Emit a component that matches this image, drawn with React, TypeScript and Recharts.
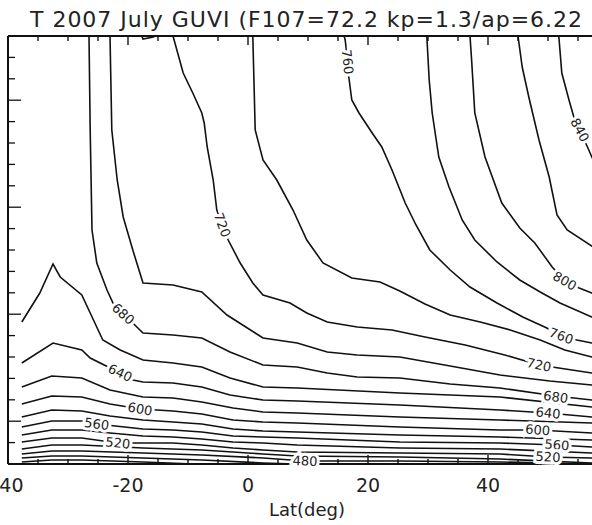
import React from "react";
import { ComposedChart, Line, XAxis, YAxis, ReferenceDot } from "recharts";

type Pt = [number, number];

// Temperature contours (K): [latitude (deg), height index] pairs along each isoline.
const c440: Pt[] = [[-37.7, 2], [-32.7, 4], [-27.7, 4], [-17.5, 2], [-9, 0]];
const c460: Pt[] = [[-37.7, 6], [-32.7, 8], [-27.7, 8], [-17.5, 6], [-7.7, 4], [2.5, 1], [8, 0]];
const c480: Pt[] = [[-37.7, 10], [-32.7, 13], [-27.7, 13], [-17.5, 11], [-7.7, 9], [2.5, 6], [9.5, 3], [25.3, 3], [42, 2], [57.3, 0]];
const c500: Pt[] = [[-37.7, 15], [-32.7, 19], [-27.7, 19], [-17.5, 16], [-7.7, 14], [2.5, 10], [8.2, 8], [25.3, 7], [42, 5], [57.3, 1], [60, 0]];
const c520: Pt[] = [[-37.7, 22], [-32.7, 26], [-27.7, 26], [-21.7, 21], [-17.5, 21], [-12.5, 21], [-7.7, 19], [-2.5, 16], [2.5, 14], [8.2, 12], [25.3, 11], [42, 10], [50, 7], [57.3, 6], [60, 5]];
const c540: Pt[] = [[-37.7, 29], [-32.7, 34], [-27.7, 34], [-23, 31], [-17.5, 28], [-12.5, 27], [-7.7, 25], [-2.5, 22], [2.5, 21], [8.2, 19], [25.3, 16], [42, 15], [57.3, 11], [60, 10]];
const c560: Pt[] = [[-37.7, 37], [-32.7, 43], [-27.7, 43], [-25.2, 40], [-17.5, 35], [-12.5, 34], [-7.7, 32], [-2.5, 28], [2.5, 27], [8.2, 26], [25.3, 22], [42, 21], [51.5, 19], [57.3, 17], [60, 16]];
const c580: Pt[] = [[-37.7, 47], [-32.7, 54], [-27.7, 53], [-23, 48], [-17.5, 44], [-12.5, 42], [-7.7, 40], [-2.5, 35], [2.5, 33], [8.2, 32], [25.3, 29], [42, 27], [57.3, 24], [60, 23]];
const c600: Pt[] = [[-37.7, 60], [-32.7, 68], [-27.7, 67], [-23, 60], [-18, 55], [-12.5, 53], [-7.7, 50], [-2.5, 44], [2.5, 42], [8.2, 41], [25.3, 37], [42, 34], [48.3, 34], [57.3, 31], [60, 30]];
const c620: Pt[] = [[-37.7, 77], [-32.7, 88], [-27.7, 86], [-23, 74], [-17.5, 67], [-12.5, 66], [-7.7, 62], [-2.5, 56], [2.5, 52], [8.2, 51], [25.3, 47], [42, 44], [57.3, 41], [60, 40]];
const c640: Pt[] = [[-37.7, 101], [-32.5, 121], [-27.7, 114], [-26.3, 106], [-21.3, 91], [-19.2, 84], [-17.5, 82], [-12.5, 81], [-7.7, 77], [-3, 69], [2.5, 64], [8.2, 63], [25.3, 59], [42, 54], [50, 51], [57.3, 47], [60, 46]];
const c660: Pt[] = [[-37.7, 142], [-34.7, 171], [-32.5, 200], [-31.3, 187], [-27.7, 169], [-26.3, 151], [-24.2, 124], [-21.3, 114], [-17.5, 104], [-12.5, 101], [-7.7, 97], [-3, 86], [2.5, 77], [8.2, 76], [25.3, 71], [42, 67], [57.3, 57], [60, 54]];
const c680: Pt[] = [[-26.5, 428], [-26.3, 334], [-26, 234], [-25.2, 201], [-23.5, 174], [-22.5, 161], [-20.8, 150], [-19.2, 141], [-17.5, 131], [-12.5, 129], [-7.7, 126], [-3, 112], [2.5, 99], [8.2, 97], [13.2, 91], [18.2, 87], [25.3, 86], [33.7, 80], [42, 76], [51.3, 68], [57.3, 64], [60, 62]];
const c700: Pt[] = [[-23, 428], [-22.7, 334], [-21.8, 284], [-20.8, 247], [-19.2, 214], [-17.5, 181], [-12.5, 179], [-7.7, 172], [-3.5, 149], [2.5, 126], [8.2, 121], [13.2, 112], [18.2, 109], [25.3, 107], [33.7, 98], [42, 89], [50.3, 83], [57.3, 79], [60, 77]];
const c720: Pt[] = [[-12.5, 428], [-10.8, 391], [-9.2, 371], [-7.7, 351], [-7.3, 341], [-6.8, 317], [-5.8, 284], [-5.2, 254], [-4.3, 239], [-3.3, 224], [-1.3, 201], [0.8, 181], [2.5, 169], [7, 161], [9.8, 151], [13.2, 142], [18.2, 137], [24, 134], [29.5, 127], [36.2, 119], [42.8, 109], [48.5, 99], [57.3, 91], [60, 88]];
const c720top: Pt[] = [[-17.7, 428], [-17.5, 425], [-15.8, 427], [-15.5, 428]];
const c740: Pt[] = [[0.8, 428], [1.2, 334], [2.5, 304], [4.8, 284], [7.5, 254], [9.8, 224], [12.5, 201], [17.3, 186], [22, 182], [25.3, 173], [29.5, 160], [33.7, 149], [38.7, 142], [43.7, 134], [48.7, 124], [52.8, 114], [57.3, 107], [60, 103]];
const c760: Pt[] = [[16, 428], [16.2, 424], [16.6, 402], [16.8, 387], [17.3, 364], [18.5, 351], [20.7, 331], [22.3, 317], [24, 294], [26.2, 261], [28, 239], [30.3, 214], [33.7, 194], [37, 177], [41.5, 161], [45.8, 147], [49.8, 136], [52, 128], [54.8, 124], [57.3, 121], [60, 117]];
const c780: Pt[] = [[29.8, 428], [30.2, 384], [30.7, 351], [31.8, 307], [33.5, 277], [35.7, 244], [37.8, 224], [41.5, 202], [45.3, 184], [48.7, 172], [52, 161], [57.3, 147], [60, 140]];
const c800: Pt[] = [[37, 428], [37.3, 401], [37.8, 351], [39.5, 307], [42.3, 261], [45.3, 236], [47.8, 221], [50.7, 197], [52.8, 183], [55.2, 176], [57.3, 171], [60, 165]];
const c820: Pt[] = [[45, 428], [45.7, 397], [46.8, 367], [48.5, 324], [50.2, 287], [51.5, 249], [53.2, 234], [57.3, 218], [60, 208]];
const c840: Pt[] = [[51.8, 428], [52.3, 391], [53.5, 364], [54.3, 347], [55.3, 334], [56.8, 314], [57.3, 307], [60, 279]];

const contours: Pt[][] = [
  c440, c460, c480, c500, c520, c540, c560, c580, c600, c620, c640,
  c660, c680, c700, c720, c720top, c740, c760, c780, c800, c820, c840,
];

// In-line level labels: [level, latitude, height index, rotation (deg)]
const levelLabels: [number, number, number, number][] = [
  [680, -20.8, 150, 42],
  [640, -21.3, 91, 25],
  [600, -18, 55, 10],
  [560, -25.2, 40, 8],
  [520, -21.7, 21, 6],
  [720, -4.3, 239, 70],
  [760, 16.6, 402, 84],
  [840, 55.3, 334, 62],
  [800, 52.8, 183, 30],
  [760, 52.2, 128, 20],
  [720, 48.5, 99, 12],
  [680, 51.3, 67, 8],
  [640, 50, 51, 6],
  [600, 48.3, 34, 4],
  [560, 51.5, 19, 4],
  [520, 50, 7, 3],
  [480, 9.5, 3, 2],
];

const latTicks = [-40, -35, -30, -25, -20, -15, -10, -5, 0, 5, 10, 15, 20, 25, 30, 35, 40, 45, 50, 55, 60];
const latMajor = [-40, -20, 0, 20, 40, 60];
const latLabels = [-40, -20, 0, 20, 40];
const heightTicks = Array.from({ length: 21 }, (_, k) => +(k * 21.4).toFixed(1));
const H_TOP = 428;

const title = "T 2007 July GUVI (F107=72.2 kp=1.3/ap=6.22";
const xTitle = "Lat(deg)";

const INK = "#111";
const FONT = "'DejaVu Sans', sans-serif";

const LatLabel = (props: any) => {
  const { x, y, payload } = props;
  const v = payload.value;
  if (!latLabels.includes(v)) return <g />;
  return (
    <text x={x} y={y + 28} textAnchor="middle" fontFamily={FONT} fontSize={19} fill="#222">
      {v}
    </text>
  );
};

const LeftTick = (props: any) => {
  const { x, y, index } = props;
  const major = index % 5 === 2;
  return <line x1={x} x2={x + (major ? 13 : 7)} y1={y} y2={y} stroke={INK} strokeWidth={1.3} />;
};

// Inward tick mark on the top (dir = 1) or bottom (dir = -1) edge of the frame.
const EdgeTick = ({ cx, cy, len, dir }: any) => (
  <line x1={cx} x2={cx} y1={cy} y2={cy + dir * len} stroke={INK} strokeWidth={1.4} />
);

const LevelText = ({ cx, cy, text, angle }: any) => (
  <text
    x={cx}
    y={cy}
    transform={`rotate(${angle} ${cx} ${cy})`}
    textAnchor="middle"
    dominantBaseline="central"
    fontFamily={FONT}
    fontSize={13}
    fill="#222"
    stroke="#fff"
    strokeWidth={6}
    paintOrder="stroke"
  >
    {text}
  </text>
);

export default function App() {
  return (
    <div style={{ position: "absolute", left: 0, top: 0, width: 592, height: 525, overflow: "hidden", background: "#fff" }}>
      <ComposedChart width={700} height={525} margin={{ top: 35, left: 7, right: 92, bottom: 60 }}>
        <XAxis
          xAxisId="b"
          dataKey="lat"
          type="number"
          domain={[-40, 60]}
          ticks={latTicks}
          interval={0}
          height={1}
          tickSize={0}
          tickMargin={0}
          tickLine={false}
          tick={LatLabel}
          axisLine={{ stroke: INK, strokeWidth: 2 }}
        />
        <XAxis
          xAxisId="t"
          orientation="top"
          dataKey="lat"
          type="number"
          domain={[-40, 60]}
          height={1}
          tick={false}
          tickLine={false}
          axisLine={{ stroke: INK, strokeWidth: 2 }}
        />
        <YAxis
          yAxisId="l"
          type="number"
          domain={[0, 428]}
          ticks={heightTicks}
          interval={0}
          width={1}
          tickSize={0}
          tickMargin={0}
          tick={LeftTick}
          axisLine={{ stroke: INK, strokeWidth: 2 }}
        />
        {contours.map((pts, i) => (
          <Line
            key={i}
            xAxisId={i === 0 ? "t" : "b"}
            yAxisId="l"
            data={pts.map(([lat, h]) => ({ lat, h }))}
            dataKey="h"
            type="linear"
            stroke={INK}
            strokeWidth={1.6}
            dot={false}
            activeDot={false}
            isAnimationActive={false}
          />
        ))}
        {latTicks.map((v) => {
          const len = latMajor.includes(v) ? 9 : 5;
          return [
            <ReferenceDot
              key={`tt${v}`}
              xAxisId="b"
              yAxisId="l"
              x={v}
              y={H_TOP}
              r={0}
              zIndex={2000}
              ifOverflow="visible"
              shape={(p: any) => <EdgeTick cx={p.cx} cy={p.cy} len={len} dir={1} />}
            />,
            <ReferenceDot
              key={`bt${v}`}
              xAxisId="b"
              yAxisId="l"
              x={v}
              y={0}
              r={0}
              zIndex={2000}
              ifOverflow="visible"
              shape={(p: any) => <EdgeTick cx={p.cx} cy={p.cy} len={len} dir={-1} />}
            />,
          ];
        })}
        {levelLabels.map(([level, lat, h, angle], i) => (
          <ReferenceDot
            key={`lbl${i}`}
            xAxisId="b"
            yAxisId="l"
            x={lat}
            y={h}
            r={0}
            zIndex={2000}
            ifOverflow="visible"
            shape={(p: any) => <LevelText cx={p.cx} cy={p.cy} text={String(level)} angle={angle} />}
          />
        ))}
      </ComposedChart>
      <svg width={592} height={525} style={{ position: "absolute", left: 0, top: 0, pointerEvents: "none" }}>
        <text x={30} y={27} fontFamily={FONT} fontSize={22} fill="#222" textLength={552} lengthAdjust="spacing">
          {title}
        </text>
        <text x={307} y={516} textAnchor="middle" fontFamily={FONT} fontSize={18} fill="#222">
          {xTitle}
        </text>
      </svg>
    </div>
  );
}
